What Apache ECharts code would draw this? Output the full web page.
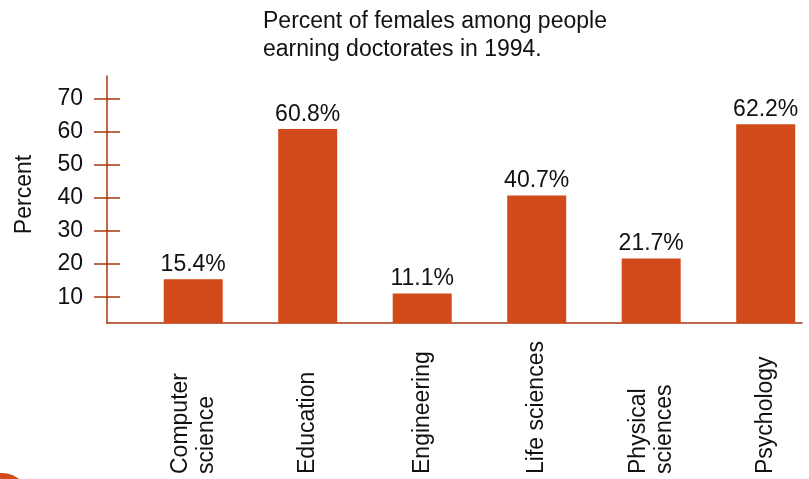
<!DOCTYPE html>
<html>
<head>
<meta charset="utf-8">
<script src="https://cdn.jsdelivr.net/npm/echarts@6/dist/echarts.min.js"></script>
<style>
  html, body { margin: 0; padding: 0; background: #ffffff; }
  #chart { width: 809px; height: 479px; }
</style>
</head>
<body>
<div id="chart"></div>
<script>
// Fields of study and share of female doctorate earners (1994), in percent
const categories = ['Computer\nscience', 'Education', 'Engineering', 'Life sciences', 'Physical\nsciences', 'Psychology'];
const femalePercent = [15.4, 60.8, 11.1, 40.7, 21.7, 62.2];
const yTickValues = [10, 20, 30, 40, 50, 60, 70];

const titleText = 'Percent of females among people\nearning doctorates in 1994.';
const yAxisName = 'Percent';

const barColor = '#d14a19';
const axisColor = '#a9360f';
const textColor = '#111111';
const fontFamily = 'Liberation Sans, Arial, Helvetica, sans-serif';

// axis extents: bars sit at slots 0..n-1, with extra room left of the first slot
const xMin = -0.753;
const xMax = 5.317;
const yMin = 2.2;
const yMax = 76.8;

const slotIndex = categories.map((_, i) => i);
const barData = femalePercent.map((v, i) => [i, v]);

const chart = echarts.init(document.getElementById('chart'), null, { renderer: 'canvas' });

chart.setOption({
  animation: false,
  backgroundColor: '#ffffff',
  title: {
    text: titleText,
    left: 258,
    top: 3,
    textStyle: {
      fontFamily: fontFamily,
      fontSize: 23,
      fontWeight: 'normal',
      color: textColor,
      lineHeight: 28
    }
  },
  grid: { left: 107, right: 7, top: 76, bottom: 156, containLabel: false },
  xAxis: {
    type: 'value',
    min: xMin,
    max: xMax,
    axisLine: { show: true, onZero: false, lineStyle: { color: axisColor, width: 1.5 } },
    axisTick: { show: false },
    splitLine: { show: false },
    axisLabel: {
      customValues: slotIndex,
      formatter: (v) => categories[Math.round(v)] || '',
      rotate: 90,
      align: 'left',
      margin: 151,
      fontFamily: fontFamily,
      fontSize: 23,
      lineHeight: 26,
      color: textColor
    }
  },
  yAxis: [
    {
      type: 'value',
      min: yMin,
      max: yMax,
      name: yAxisName,
      nameLocation: 'middle',
      nameRotate: 90,
      nameGap: 71,
      nameTextStyle: {
        fontFamily: fontFamily,
        fontSize: 23,
        color: textColor,
        padding: [0, 0, 0, 10]
      },
      axisLine: { show: true, onZero: false, lineStyle: { color: axisColor, width: 1.5 } },
      axisTick: {
        show: true,
        inside: false,
        length: 13,
        customValues: yTickValues,
        lineStyle: { color: axisColor, width: 1.5 }
      },
      axisLabel: {
        show: true,
        customValues: yTickValues,
        margin: 24,
        fontFamily: fontFamily,
        fontSize: 23,
        color: textColor
      },
      splitLine: { show: false }
    },
    {
      // inner half of the ticks so each tick crosses the axis line
      type: 'value',
      position: 'left',
      min: yMin,
      max: yMax,
      axisLine: { show: false, onZero: false },
      axisTick: {
        show: true,
        inside: true,
        length: 13,
        customValues: yTickValues,
        lineStyle: { color: axisColor, width: 1.5 }
      },
      axisLabel: { show: false },
      splitLine: { show: false }
    }
  ],
  series: [
    {
      type: 'bar',
      yAxisIndex: 0,
      data: barData,
      barWidth: 59,
      clip: true,
      itemStyle: { color: barColor },
      label: {
        show: true,
        position: 'top',
        distance: 3,
        formatter: (p) => p.value[1].toFixed(1) + '%',
        fontFamily: fontFamily,
        fontSize: 23,
        color: textColor
      }
    }
  ],
  graphic: [
    {
      // corner emblem peeking in at the lower left
      type: 'circle',
      shape: { cx: 2, cy: 500, r: 27 },
      style: { fill: barColor },
      silent: true
    }
  ]
});
</script>
</body>
</html>
